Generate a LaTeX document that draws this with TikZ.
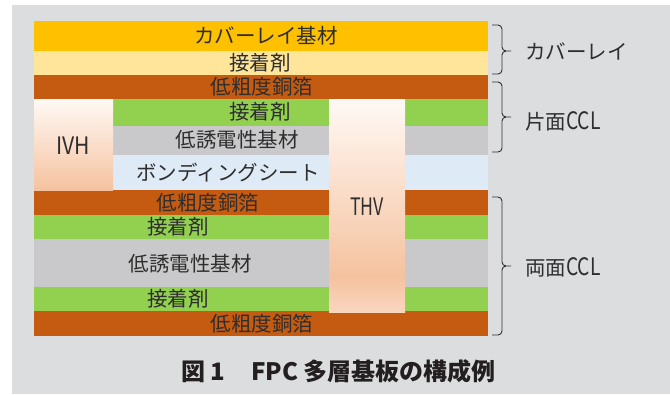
\documentclass[tikz,border=0pt]{standalone}
\usepackage{fontspec}
\usepackage{graphicx}
\newfontfamily\jp{Noto Sans CJK JP}
\definecolor{bg}{HTML}{DCDDDF}
\definecolor{cover}{HTML}{FFC000}
\definecolor{adhy}{HTML}{FFE599}
\definecolor{copper}{HTML}{C55A11}
\definecolor{adhg}{HTML}{92D050}
\definecolor{base}{HTML}{C9C9CB}
\definecolor{bond}{HTML}{DEEAF6}
\definecolor{pktop}{HTML}{FFF9F5}
\definecolor{pkmid}{HTML}{F5C29F}
\definecolor{pkbot}{HTML}{F9D6C0}
\definecolor{txt}{HTML}{2E2E2E}
\definecolor{capc}{HTML}{231F20}
\newcommand\hwid[2]{\scalebox{#1}[1]{#2}}
\begin{document}
\begin{tikzpicture}[x=1pt,y=-1pt,
  lbl/.style={font=\jp\fontsize{20.5}{22}\selectfont, text=txt, inner sep=0},
  lat/.style={font=\jp\fontsize{24}{26}\selectfont, text=txt, inner sep=0},
  brc/.style={draw=txt, line width=0.9pt}]
\useasboundingbox (0,0) rectangle (670,394);
\fill[white] (0,0) rectangle (670,394);
\fill[bg] (12,5) rectangle (670,394);
% layers
\fill[cover]  (34,21)  rectangle (488,51);
\fill[adhy]   (34,51)  rectangle (488,75);
\fill[copper] (34,75)  rectangle (488,99);
\fill[adhg]   (113,99) rectangle (488,126);
\fill[base]   (113,126) rectangle (488,155);
\fill[bond]   (113,155) rectangle (488,190);
\fill[copper] (34,190) rectangle (488,215);
\fill[adhg]   (34,215) rectangle (488,239);
\fill[base]   (34,239) rectangle (488,287);
\fill[adhg]   (34,287) rectangle (488,311);
\fill[copper] (34,311) rectangle (488,336);
% vias
\shade[top color=pktop, bottom color=pkmid] (34,99) rectangle (113,190);
\shade[top color=pktop, bottom color=pkmid] (329,99) rectangle (405,277);
\shade[top color=pkmid, bottom color=pkbot] (329,277) rectangle (405,312);
% labels
\node[lbl] (l1)  at (266,36)  {カバーレイ基材};
\node[lbl] (l2)  at (260,63)  {接着剤};
\node[lbl] (l3)  at (262,87)  {低粗度銅箔};
\node[lbl] (l4)  at (260,112) {接着剤};
\node[lbl] (l5)  at (237,140) {低誘電性基材};
\node[lbl] (l6)  at (228,173) {ボンディングシート};
\node[lbl] (l7)  at (208,203) {低粗度銅箔};
\node[lbl] (l8)  at (178,227) {接着剤};
\node[lbl] (l9)  at (190,264) {低誘電性基材};
\node[lbl] (l10) at (178,299) {接着剤};
\node[lbl] (l11) at (262,324) {低粗度銅箔};
\node[lat] (ivh) at (73,146)  {\hwid{0.88}{IVH}};
\node[lat] (thv) at (367,207) {\hwid{0.74}{THV}};
% braces
\draw[brc] (492,25) -- (498,25) to[out=0,in=90] (502,29) -- (502,47) to[out=-90,in=180] (506,51) -- (511,51);
\draw[brc] (506,51) to[out=180,in=90] (502,55) -- (502,70) to[out=-90,in=0] (498,74) -- (492,74);
\draw[brc] (492,82) -- (498,82) to[out=0,in=90] (502,86) -- (502,113) to[out=-90,in=180] (506,117) -- (511,117);
\draw[brc] (506,117) to[out=180,in=90] (502,121) -- (502,148) to[out=-90,in=0] (498,152) -- (492,152);
\draw[brc] (492,197) -- (498,197) to[out=0,in=90] (502,201) -- (502,262) to[out=-90,in=180] (506,266) -- (511,266);
\draw[brc] (506,266) to[out=180,in=90] (502,270) -- (502,331) to[out=-90,in=0] (498,335) -- (492,335);
\node[lbl, anchor=west] (r1) at (525,51)  {カバーレイ};
\node[lbl, anchor=west] (r2) at (525,121) {片面{\fontsize{24}{26}\selectfont\hwid{0.8}{CCL}}};
\node[lbl, anchor=west] (r3) at (525,267) {両面{\fontsize{24}{26}\selectfont\hwid{0.8}{CCL}}};
% caption
\node[anchor=west, inner sep=0, text=capc, font=\jp\bfseries\fontsize{24}{26}\selectfont] (cap) at (181,371) {図 1\hspace{26pt}FPC 多層基板の構成例};
\end{tikzpicture}
\end{document}
